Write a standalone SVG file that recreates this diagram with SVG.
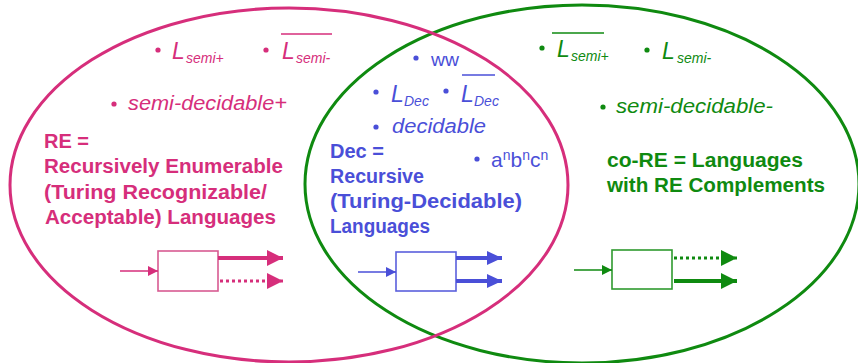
<svg xmlns="http://www.w3.org/2000/svg" width="858" height="363" viewBox="0 0 858 363">
<style>
text{font-family:"Liberation Sans",Arial,sans-serif}
.pk{fill:#d62e7b}.gr{fill:#0f8a10}.bl{fill:#4a4fd8}
.bold{font-weight:bold;font-size:20px}
.it{font-style:italic;font-size:20px}
.L{font-style:italic;font-size:23px}
.sub{font-style:italic;font-size:14px}
.reg{font-size:19px}
.ov{stroke-width:1.5}
.box{fill:#fff;stroke-width:1.6}
</style>
<defs>
<marker id="hpk" markerUnits="userSpaceOnUse" markerWidth="16" markerHeight="16" refX="16" refY="8" orient="auto"><path d="M0,0L16,8L0,16Z" fill="#d62e7b"/></marker>
<marker id="hbl" markerUnits="userSpaceOnUse" markerWidth="15" markerHeight="14" refX="15" refY="7" orient="auto"><path d="M0,0L15,7L0,14Z" fill="#4a4fd8"/></marker>
<marker id="hgr" markerUnits="userSpaceOnUse" markerWidth="16" markerHeight="16" refX="16" refY="8" orient="auto"><path d="M0,0L16,8L0,16Z" fill="#0f8a10"/></marker>
<marker id="spk" markerUnits="userSpaceOnUse" markerWidth="10" markerHeight="10" refX="10" refY="5" orient="auto"><path d="M0,0L10,5L0,10Z" fill="#d62e7b"/></marker>
<marker id="sbl" markerUnits="userSpaceOnUse" markerWidth="10" markerHeight="10" refX="10" refY="5" orient="auto"><path d="M0,0L10,5L0,10Z" fill="#4a4fd8"/></marker>
<marker id="sgr" markerUnits="userSpaceOnUse" markerWidth="10" markerHeight="10" refX="10" refY="5" orient="auto"><path d="M0,0L10,5L0,10Z" fill="#0f8a10"/></marker>
</defs>
<rect width="858" height="363" fill="#fff"/>

<g id="coRE-set">
<ellipse cx="582" cy="184" rx="277" ry="179" fill="none" stroke="#0f8a10" stroke-width="3"/>
</g>
<g id="RE-set">
<ellipse cx="289" cy="185" rx="279" ry="177" fill="none" stroke="#d62e7b" stroke-width="3"/>
</g>

<g id="RE-labels" class="pk">
<circle cx="158" cy="50" r="2.6"/>
<text class="L" x="172" y="59">L</text><text class="sub" x="186" y="63">semi+</text>
<circle cx="266" cy="50" r="2.6"/>
<text class="L" x="282" y="59">L</text><text class="sub" x="296" y="63">semi-</text>
<line class="ov" x1="281" y1="34" x2="332" y2="34" stroke="#d62e7b"/>
<circle cx="114" cy="104" r="2.6"/>
<text class="it" x="128" y="110" textLength="159" lengthAdjust="spacingAndGlyphs">semi-decidable+</text>
<text class="bold" x="44" y="148">RE =</text>
<text class="bold" x="44" y="173" textLength="239" lengthAdjust="spacingAndGlyphs">Recursively Enumerable</text>
<text class="bold" x="44" y="199" textLength="223" lengthAdjust="spacingAndGlyphs">(Turing Recognizable/</text>
<text class="bold" x="45" y="224" textLength="231" lengthAdjust="spacingAndGlyphs">Acceptable) Languages</text>
</g>

<g id="Dec-labels" class="bl">
<circle cx="416" cy="58" r="2.6"/>
<text class="reg" x="431" y="66" textLength="28" lengthAdjust="spacingAndGlyphs">ww</text>
<circle cx="376" cy="92" r="2.6"/>
<text class="L" x="391" y="102">L</text><text class="sub" x="404" y="106">Dec</text>
<circle cx="446" cy="91" r="2.6"/>
<text class="L" x="461" y="102">L</text><text class="sub" x="474" y="106">Dec</text>
<line class="ov" x1="462" y1="75" x2="495" y2="75" stroke="#4a4fd8"/>
<circle cx="376" cy="127" r="2.6"/>
<text class="it" x="392" y="133" textLength="94" lengthAdjust="spacingAndGlyphs">decidable</text>
<circle cx="477" cy="159" r="2.6"/>
<text x="491" y="167" font-size="21">a<tspan dy="-7" font-size="14">n</tspan><tspan dy="7">b</tspan><tspan dy="-7" font-size="14">n</tspan><tspan dy="7">c</tspan><tspan dy="-7" font-size="14">n</tspan></text>
<text class="bold" x="330" y="158">Dec =</text>
<text class="bold" x="330" y="183" textLength="94" lengthAdjust="spacingAndGlyphs">Recursive</text>
<text class="bold" x="330" y="208" textLength="192" lengthAdjust="spacingAndGlyphs">(Turing-Decidable)</text>
<text class="bold" x="330" y="233" textLength="100" lengthAdjust="spacingAndGlyphs">Languages</text>
</g>

<g id="coRE-labels" class="gr">
<circle cx="542" cy="48" r="2.6"/>
<text class="L" x="557" y="57">L</text><text class="sub" x="571" y="61">semi+</text>
<line class="ov" x1="552" y1="33" x2="604" y2="33" stroke="#0f8a10"/>
<circle cx="647" cy="50" r="2.6"/>
<text class="L" x="662" y="59">L</text><text class="sub" x="677" y="63">semi-</text>
<circle cx="603" cy="107" r="2.6"/>
<text class="it" x="616" y="113" textLength="157" lengthAdjust="spacingAndGlyphs">semi-decidable-</text>
<text class="bold" x="607" y="167" textLength="196" lengthAdjust="spacingAndGlyphs">co-RE = Languages</text>
<text class="bold" x="607" y="192" textLength="218" lengthAdjust="spacingAndGlyphs">with RE Complements</text>
</g>

<g id="RE-machine"><rect class="box" x="158" y="251" width="60" height="40" stroke="#d85a92"/></g>
<g id="Dec-machine"><rect class="box" x="396" y="252" width="60" height="39" stroke="#5a5fdc"/></g>
<g id="coRE-machine"><rect class="box" x="612" y="250" width="60" height="39" stroke="#2f9a2f"/></g>

<g id="connectors" fill="none">
<line x1="120" y1="271" x2="158" y2="271" stroke="#d62e7b" stroke-width="1.5" marker-end="url(#spk)"/>
<line x1="218" y1="258" x2="283" y2="258" stroke="#d62e7b" stroke-width="4" marker-end="url(#hpk)"/>
<line x1="220" y1="281" x2="283" y2="281" stroke="#d62e7b" stroke-width="3" stroke-dasharray="3 3" marker-end="url(#hpk)"/>
<line x1="358" y1="272" x2="396" y2="272" stroke="#4a4fd8" stroke-width="1.5" marker-end="url(#sbl)"/>
<line x1="456" y1="258" x2="502" y2="258" stroke="#4a4fd8" stroke-width="4" marker-end="url(#hbl)"/>
<line x1="456" y1="281" x2="502" y2="281" stroke="#4a4fd8" stroke-width="4" marker-end="url(#hbl)"/>
<line x1="574" y1="270" x2="612" y2="270" stroke="#0f8a10" stroke-width="1.5" marker-end="url(#sgr)"/>
<line x1="674" y1="258" x2="737" y2="258" stroke="#0f8a10" stroke-width="3" stroke-dasharray="3 3" marker-end="url(#hgr)"/>
<line x1="674" y1="281" x2="737" y2="281" stroke="#0f8a10" stroke-width="4" marker-end="url(#hgr)"/>
</g>
</svg>
